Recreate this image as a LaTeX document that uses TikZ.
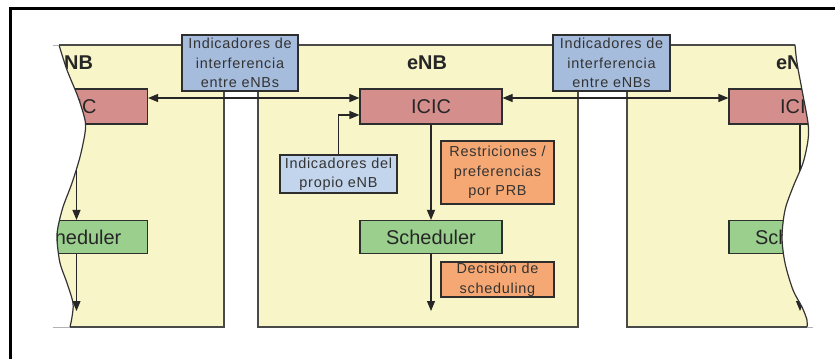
\documentclass[tikz,border=0pt]{standalone}
\usepackage{fontspec}
\setmainfont{Liberation Sans}
\newfontfamily\spacedsans[LetterSpace=5]{Liberation Sans}
\usetikzlibrary{arrows.meta}

\definecolor{panelfill}{HTML}{F8F6C8}
\definecolor{panelline}{HTML}{4A4A4A}
\definecolor{boxline}{HTML}{2E2E2E}
\definecolor{icicfill}{HTML}{D48E8C}
\definecolor{schedfill}{HTML}{9ACF8E}
\definecolor{orangefill}{HTML}{F5A873}
\definecolor{bluedark}{HTML}{A6BCDC}
\definecolor{bluelight}{HTML}{C2D5EC}

\begin{document}
\begin{tikzpicture}[x=1bp,y=-1bp,
  box/.style={draw=boxline, line width=1.1bp, inner sep=0pt, align=center},
  bigbox/.style={box, minimum width=142bp, font=\fontsize{20}{24}\selectfont, text=black!85},
  smallbox/.style={box, font=\spacedsans\fontsize{14.5}{19.5}\selectfont, text=black!80},
  panel/.style={fill=panelfill, draw=panelline, line width=1.2bp},
  cutline/.style={draw=black!80, line width=1.2bp},
  stub/.style={draw=black!30, line width=1bp},
  tip/.tip={Triangle[length=10bp,width=8bp]},
  flow/.style={draw=black!85, line width=1.1bp, -tip},
  flowboth/.style={draw=black!85, line width=1.1bp, tip-tip},
  title/.style={font=\fontsize{20}{24}\selectfont\bfseries, text=black!85}]

\useasboundingbox (0,0) rectangle (835,358);
\clip (0,0) rectangle (835,358);

% outer frame
\draw[line width=3bp] (850,8) -- (10,8) -- (10,370);

% ---- central eNB ----
\path[panel] (258,45) rectangle (578,327);
\node[title] (tM) at (427,63) {eNB};
\node[bigbox, fill=icicfill, minimum height=35bp] (icM) at (431,106.5) {ICIC};
\node[bigbox, fill=schedfill, minimum height=33bp] (scM) at (431,237) {Scheduler};
\coordinate (outM) at (431,311);
\node[smallbox, fill=bluelight, minimum width=117bp, minimum height=38bp] (own) at (338.5,174)
  {Indicadores del\\propio eNB};
\node[smallbox, fill=orangefill, minimum width=113bp, minimum height=63bp] (restr) at (497.5,172.5)
  {Restriciones /\\preferencias\\por PRB};
\node[smallbox, fill=orangefill, minimum width=113bp, minimum height=35bp] (dec) at (497.5,279.5)
  {Decisión de\\scheduling};
\draw[flow] (icM) -- (scM);
\draw[flow] (scM) -- (outM);
\draw[flow] (own.north) |- ([yshift=-8.5bp]icM.west);

% ---- left eNB, cut by a wavy edge ----
\begin{scope}
  \clip (232,40) -- (59,40) -- plot[smooth] coordinates {(59,45) (67,70) (78,97) (85,120) (85,133)
    (80,157) (72,183) (63,207) (58,227) (57,240) (60,263) (67,283) (73,303) (72,317) (70,327)}
    -- (70,335) -- (232,335) -- cycle;
  \path[panel] (-96,45) rectangle (224,327);
  \node[title] (tL) at (73,63) {eNB};
  \node[bigbox, fill=icicfill, minimum height=35bp] (icL) at (76.5,106.5) {ICIC};
  \node[bigbox, fill=schedfill, minimum height=33bp] (scL) at (76.5,237) {Scheduler};
  \coordinate (outL) at (76.5,311);
  \draw[flow] (icL) -- (scL);
  \draw[flow] (scL) -- (outL);
\end{scope}
\draw[cutline] plot[smooth] coordinates {(59,45) (67,70) (78,97) (85,120) (85,133)
    (80,157) (72,183) (63,207) (58,227) (57,240) (60,263) (67,283) (73,303) (72,317) (70,327)};
\draw[stub] (53,45) -- (59,45);
\draw[stub] (53,327) -- (70,327);

% ---- right eNB, cut by a wavy edge ----
\begin{scope}
  \clip (620,40) -- (795,40) -- plot[smooth] coordinates {(795,45) (797,63) (802,90) (808,123)
    (808,140) (803,163) (793,187) (785,210) (782,237) (785,263) (793,290) (802,307) (807,320) (807,327)}
    -- (807,335) -- (620,335) -- cycle;
  \path[panel] (627,45) rectangle (947,327);
  \node[title] (tR) at (796,63) {eNB};
  \node[bigbox, fill=icicfill, minimum height=35bp] (icR) at (800,106.5) {ICIC};
  \node[bigbox, fill=schedfill, minimum height=33bp] (scR) at (800,237) {Scheduler};
  \coordinate (outR) at (800,311);
  \draw[flow] (icR) -- (scR);
  \draw[flow] (scR) -- (outR);
\end{scope}
\draw[cutline] plot[smooth] coordinates {(795,45) (797,63) (802,90) (808,123)
    (808,140) (803,163) (793,187) (785,210) (782,237) (785,263) (793,290) (802,307) (807,320) (807,327)};
\draw[stub] (807,327) -- (813,327);

% ---- exchange between neighbouring eNBs ----
\draw[flowboth] ([yshift=8.5bp]icL.east) -- ([yshift=8.5bp]icM.west);
\draw[flowboth] ([yshift=8.5bp]icM.east) -- ([yshift=8.5bp]icR.west);
\node[smallbox, fill=bluedark, minimum width=116bp, minimum height=56bp] (intL) at (240,63)
  {Indicadores de\\interferencia\\entre eNBs};
\node[smallbox, fill=bluedark, minimum width=117bp, minimum height=56bp] (intR) at (611.5,63)
  {Indicadores de\\interferencia\\entre eNBs};
\end{tikzpicture}
\end{document}
